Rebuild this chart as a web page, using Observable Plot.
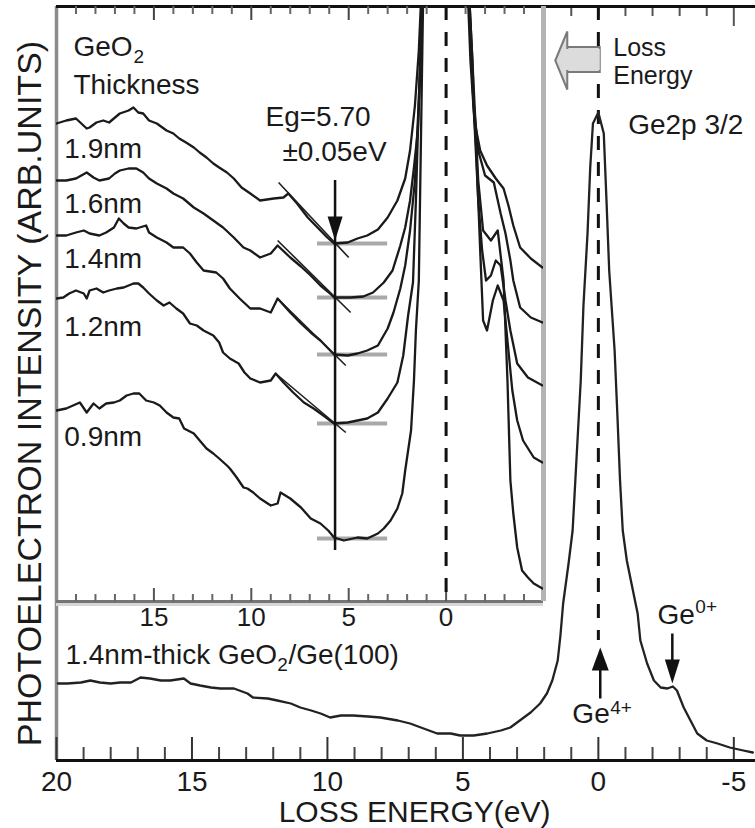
<!DOCTYPE html>
<html><head><meta charset="utf-8">
<script src="https://cdn.jsdelivr.net/npm/d3@7"></script>
<script src="https://cdn.jsdelivr.net/npm/@observablehq/plot@0.6"></script>
<style>
html,body{margin:0;padding:0;background:#fff;overflow:hidden;}
#wrap{position:relative;width:755px;height:828px;}
#wrap svg{position:absolute;left:0;top:0;}
</style></head><body><div id="wrap"></div>
<script>
const FONT = "'Liberation Sans', Arial, Helvetica, sans-serif";
const INK = "#1a1a1a";

// ---- Main spectrum: 1.4nm-thick GeO2/Ge(100), Ge2p3/2 (loss energy eV, intensity arb.)
const mainSpectrum = [
[19.95,77],[19.6,77],[19.1,78],[18.75,80],[18.4,78],[18.0,77],[17.65,78],[17.25,78],[16.9,83],[16.55,82],
[16.15,80],[15.8,80],[15.3,82],[15.05,77],[14.7,75],[14.3,73],[13.95,72],[13.45,72],[12.95,67],[12.75,63],
[12.2,62],[11.85,60],[11.35,57],[11.0,53],[10.6,50],[10.25,47],[9.9,43],[9.5,45],[9.05,45],[8.5,44],
[8.05,43],[7.4,40],[6.95,37],[6.45,32],[5.95,27],[5.45,27],[5.1,25],[4.6,25],[4.1,27],[3.6,30],
[3.25,33],[2.9,40],[2.5,48],[2.15,57],[1.9,67],[1.7,80],[1.5,100],[1.4,125],[1.3,157],[1.1,197],
[0.95,230],[0.85,280],[0.75,330],[0.65,380],[0.55,455],[0.4,527],[0.3,593],[0.2,637],[0,648],[-0.2,627],
[-0.3,560],[-0.4,490],[-0.5,450],[-0.6,410],[-0.7,347],[-0.8,280],[-0.9,230],[-1.05,200],[-1.2,180],[-1.45,147],
[-1.55,120],[-1.8,97],[-2.05,80],[-2.3,73],[-2.55,72],[-2.75,74],[-2.9,70],[-3.15,53],[-3.4,40],[-3.65,27],
[-4.0,20],[-4.4,17],[-4.85,13],[-5.35,10],[-5.7,8]
];

// ---- Inset spectra (band-gap region) for each GeO2 thickness
const gap19 = [
[20.0,478],[19.5,481],[19.0,483],[18.45,473],[18.3,474],[17.95,479],[17.6,481],[17.3,479],[16.75,488],[16.3,491],
[16.05,494],[15.8,489],[15.55,488],[15.25,481],[14.85,478],[14.35,471],[14.0,468],[13.7,463],[13.35,459],[12.95,454],
[12.65,449],[12.3,444],[11.95,438],[11.65,434],[11.25,429],[10.9,423],[10.5,414],[10.05,408],[9.55,401],[8.85,403],
[8.35,404],[8.1,408],[7.65,398],[7.1,384],[6.6,374],[6.1,364],[5.75,358],[5.05,359],[4.55,363],[4.05,366],
[3.5,372],[3.0,384],[2.5,401],[2.1,423],[1.85,451],[1.6,496],[1.4,551],[1.2,640],[-1.05,640],[-1.25,541],
[-1.45,481],[-1.75,451],[-2.1,436],[-2.55,423],[-2.95,413],[-3.2,396],[-3.45,376],[-3.8,354],[-4.35,343],[-4.95,334]
];
const gap16 = [
[20.0,421],[19.5,421],[19.0,423],[18.45,429],[18.1,424],[17.8,421],[17.3,423],[17.0,428],[16.75,431],[16.3,433],
[15.9,433],[15.55,429],[15.25,423],[14.85,418],[14.35,413],[14.0,408],[13.5,403],[12.95,394],[12.45,388],[11.95,381],
[11.45,374],[10.9,364],[10.4,354],[10.05,351],[9.55,344],[9.0,348],[8.65,356],[8.0,344],[7.45,335],[6.95,326],
[6.45,316],[5.95,308],[5.75,304],[4.9,304],[4.25,305],[3.75,309],[3.2,319],[2.75,331],[2.35,356],[2.1,374],
[1.85,401],[1.65,434],[1.45,471],[1.3,541],[1.15,640],[-1.1,640],[-1.3,541],[-1.4,501],[-1.65,451],[-2.0,426],
[-2.45,419],[-2.8,388],[-3.05,368],[-3.3,341],[-3.45,321],[-3.8,294],[-4.35,284],[-4.95,279]
];
const gap14 = [
[20.0,366],[19.5,366],[19.0,369],[18.6,371],[18.3,368],[17.8,366],[17.45,369],[17.05,374],[16.8,383],[16.55,378],
[16.3,374],[15.9,373],[15.4,376],[15.25,369],[14.85,364],[14.35,359],[14.0,354],[13.5,354],[13.15,348],[12.8,339],
[12.45,331],[11.8,329],[11.45,323],[11.1,313],[10.6,303],[10.05,293],[9.55,293],[9.0,289],[8.65,303],[8.0,289],
[7.45,278],[6.95,269],[6.45,261],[5.95,251],[5.75,247],[5.05,246],[4.55,248],[4.05,251],[3.5,256],[3.0,273],
[2.7,289],[2.35,313],[2.1,336],[1.85,371],[1.6,421],[1.4,501],[1.15,640],[-1.1,640],[-1.35,541],[-1.45,481],
[-1.65,401],[-1.85,351],[-2.05,321],[-2.3,326],[-2.55,341],[-2.8,336],[-3.05,301],[-3.3,271],[-3.65,238],[-4.2,224],
[-4.95,216]
];
const gap12 = [
[20.0,303],[19.65,304],[19.35,308],[19.0,311],[18.6,308],[18.45,303],[18.3,311],[17.95,313],[17.6,309],[17.3,311],
[16.9,313],[16.55,314],[16.3,316],[16.05,318],[15.8,318],[15.55,314],[15.25,308],[14.85,301],[14.5,296],[14.2,299],
[13.85,293],[13.5,288],[13.15,278],[12.8,276],[12.45,271],[11.95,266],[11.65,259],[11.45,249],[11.1,243],[10.65,238],
[10.35,229],[10.05,223],[9.55,219],[9.0,221],[8.75,228],[8.35,219],[7.85,209],[7.3,199],[6.8,193],[6.3,186],
[5.75,178],[5.05,179],[4.55,181],[4.05,183],[3.5,189],[3.0,203],[2.5,219],[2.2,246],[1.95,286],[1.7,319],
[1.55,401],[1.4,501],[1.15,640],[-1.1,640],[-1.4,501],[-1.55,451],[-1.75,351],[-1.9,281],[-2.1,271],[-2.4,301],
[-2.65,316],[-2.95,301],[-3.2,251],[-3.4,211],[-3.65,181],[-3.95,161],[-4.5,144],[-4.95,139]
];
const gap09 = [
[20.0,191],[19.5,193],[19.15,196],[18.8,199],[18.45,189],[18.1,198],[17.8,193],[17.45,198],[17.05,199],[16.75,201],
[16.4,206],[16.05,208],[15.75,208],[15.4,201],[15.0,199],[14.7,196],[14.35,189],[14.0,184],[13.7,183],[13.45,173],
[12.95,168],[12.65,161],[12.3,153],[11.95,148],[11.65,143],[11.25,136],[11.1,133],[10.75,124],[10.4,114],[10.2,113],
[9.9,109],[9.55,103],[9.0,96],[8.65,98],[8.5,109],[8.0,103],[7.45,94],[6.95,83],[6.45,78],[6.05,71],
[5.75,64],[5.25,61],[4.55,64],[4.05,63],[3.5,68],[3.2,73],[2.85,81],[2.5,93],[2.25,108],[2.1,131],
[1.95,151],[1.8,171],[1.65,221],[1.55,271],[1.4,321],[1.3,451],[1.15,640],[-1.1,640],[-1.45,501],[-1.65,421],
[-1.9,371],[-2.3,361],[-2.65,371],[-2.95,321],[-3.15,221],[-3.3,121],[-3.45,88],[-3.65,54],[-3.9,31],[-4.2,24],
[-4.5,18],[-4.95,13]
];
const thicknessLabels = ["1.9nm", "1.6nm", "1.4nm", "1.2nm", "0.9nm"];
const thicknessLevels = [444, 389, 334, 266, 156];
const gapMinima = [358, 304, 247, 178, 63];
const bandGap = 5.70;
const tangents = [
  {e1: 8.6, v1: 419, e2: 5.0, v2: 344},
  {e1: 8.65, v1: 361, e2: 4.9, v2: 289},
  {e1: 8.65, v1: 303, e2: 5.15, v2: 236},
  {e1: 8.75, v1: 228, e2: 5.15, v2: 169}
];

// ---- ticks
const mainMajorTicks = [20, 15, 10, 5, 0, -5];
const mainMinorTicks = [19,18,17,16,14,13,12,11,9,8,7,6,4,3,2,1,-1,-2,-3,-4];
const mainTopTicks = [1, 0, -1, -2, -3, -4];
const insetMajorTicks = [15, 10, 5, 0];
const insetMinorTicks = [19,18,17,16,14,13,12,11,9,8,7,6,4,3,2,1,-1,-2,-3,-4];

// ---- annotation anchors (data units)
const mainArrows = [
  {name: "Ge0+", e: -2.73, from: 127, to: 77, dir: "down"},
  {name: "Ge4+", e: -0.07, from: 62, to: 113, dir: "up"}
];
const lossArrow = {tipE: 1.59, tipV: 700, x1: 1.15, x2: -0.07, y1: 688, y2: 713};

// custom arrowhead symbols: tip at the anchor point
const triDown = {draw(c) { c.moveTo(0, 0); c.lineTo(-7.5, -24); c.lineTo(7.5, -24); c.closePath(); }};
const triUp = {draw(c) { c.moveTo(0, 0); c.lineTo(-8.5, 23); c.lineTo(8.5, 23); c.closePath(); }};
const triLeft = {draw(c) { c.moveTo(0, 0); c.lineTo(12, -29); c.lineTo(12, 29); c.closePath(); }};

const mainRows = mainSpectrum.map(([e, v]) => ({e, v}));
const insetSeries = [
  {label: "1.9nm", pts: gap19}, {label: "1.6nm", pts: gap16}, {label: "1.4nm", pts: gap14},
  {label: "1.2nm", pts: gap12}, {label: "0.9nm", pts: gap09}
];
const insetRows = insetSeries.flatMap(s => s.pts.map(([e, v]) => ({label: s.label, e, v})));

const txt = (x, y, t, size, extra = {}) =>
  Plot.text([t], {x: () => x, y: () => y, text: d => d, textAnchor: "start", lineAnchor: "bottom",
    fontSize: size, fill: INK, ...extra});

const main = Plot.plot({
  width: 755, height: 828,
  marginLeft: 56, marginRight: 0, marginTop: 6, marginBottom: 68,
  style: {fontFamily: FONT, fontSize: "28px", background: "none", overflow: "visible", color: INK},
  x: {domain: [20, -5.8], axis: null},
  y: {domain: [0, 754], axis: null},
  marks: [
    Plot.ruleX([20], {stroke: "#8c8c8c", strokeWidth: 3.5}),
    Plot.ruleX(mainMinorTicks, {y1: 0, y2: 13, stroke: "#444", strokeWidth: 2}),
    Plot.ruleX(mainMajorTicks, {y1: 0, y2: 23, stroke: "#333", strokeWidth: 2}),
    Plot.ruleX(mainTopTicks, {y1: 754, y2: 744, stroke: "#555", strokeWidth: 2}),
    Plot.ruleX([-5], {y1: 754, y2: 734, stroke: "#555", strokeWidth: 2}),
    Plot.ruleY([0], {stroke: "#111", strokeWidth: 3}),
    Plot.ruleY([754], {stroke: "#111", strokeWidth: 3}),
    Plot.ruleX([0], {y1: 754, y2: 120, stroke: "#111", strokeWidth: 3, strokeDasharray: "14 12"}),
    Plot.line(mainRows, {x: "e", y: "v", stroke: "#222", strokeWidth: 2.3, strokeLinejoin: "round"}),
    // Ge0+/Ge4+ arrows
    Plot.link(mainArrows, {x1: "e", x2: "e", y1: "from", y2: d => d.dir === "down" ? d.to + 20 : d.to - 20, stroke: "#111", strokeWidth: 2.5}),
    Plot.dot(mainArrows.filter(d => d.dir === "down"), {x: "e", y: "to", symbol: triDown, fill: "#111", stroke: "none"}),
    Plot.dot(mainArrows.filter(d => d.dir === "up"), {x: "e", y: "to", symbol: triUp, fill: "#111", stroke: "none"}),
    // Loss Energy block arrow
    Plot.rect([lossArrow], {x1: "x1", x2: "x2", y1: "y1", y2: "y2", fill: "#dcdcdc", stroke: "#7a7a7a", strokeWidth: 2}),
    Plot.dot([lossArrow], {x: "tipE", y: "tipV", symbol: triLeft, fill: "#dcdcdc", stroke: "#7a7a7a", strokeWidth: 2}),
    Plot.rect([lossArrow], {x1: d => d.x1 + 0.05, x2: "x2", y1: d => d.y1 + 2, y2: d => d.y2 - 2, fill: "#dcdcdc"}),
    // tick labels
    Plot.text(mainMajorTicks, {x: d => d, y: 0, dy: 30, lineAnchor: "bottom", text: d => String(d), fontSize: 28, fill: INK}),
    // texts
    txt(-0.55, 705, "Loss", 25),
    txt(-0.55, 677, "Energy", 25),
    txt(-1.1, 627, "Ge2p 3/2", 28),
    txt(19.67, 97, "1.4nm-thick GeO", 28),
    txt(11.85, 90, "2", 19),
    txt(11.44, 97, "/Ge(100)", 28),
    txt(0.96, 38, "Ge", 28),
    txt(-0.44, 47, "4+", 19),
    txt(-2.18, 137, "Ge", 28),
    txt(-3.58, 148, "0+", 19),
    txt(11.8, 0, "LOSS ENERGY(eV)", 30, {dy: 61}),
    Plot.text(["PHOTOELECTRON INTENSITY (ARB.UNITS)"], {x: () => 20, y: () => 367, dx: -26, rotate: -90,
      text: d => d, textAnchor: "middle", lineAnchor: "middle", fontSize: 34, fill: INK})
  ]
});

const inset = Plot.plot({
  width: 755, height: 630,
  marginLeft: 56, marginRight: 212, marginTop: 6, marginBottom: 29,
  style: {fontFamily: FONT, fontSize: "26px", background: "none", overflow: "visible", color: INK},
  x: {domain: [20, -5], axis: null},
  y: {domain: [0, 595], axis: null},
  marks: [
    Plot.ruleY([0], {dy: 3, stroke: "#d6d6d6", strokeWidth: 3}),
    Plot.ruleY([0], {stroke: "#757575", strokeWidth: 3}),
    Plot.ruleX([-5], {stroke: "#b3b3b3", strokeWidth: 5}),
    Plot.ruleX(insetMinorTicks, {y1: 0, y2: 7, stroke: "#666", strokeWidth: 2}),
    Plot.ruleX(insetMajorTicks, {y1: 0, y2: 13, stroke: "#555", strokeWidth: 2}),
    Plot.ruleX(insetMinorTicks, {y1: 595, y2: 587, stroke: "#666", strokeWidth: 2}),
    Plot.ruleX(insetMajorTicks, {y1: 595, y2: 581, stroke: "#444", strokeWidth: 2}),
    Plot.ruleX([0], {y1: 595, y2: 0, stroke: "#111", strokeWidth: 3, strokeDasharray: "14 12"}),
    Plot.ruleY(gapMinima, {y: d => d, x1: 6.6, x2: 3.0, stroke: "#a9a9a9", strokeWidth: 4}),
    Plot.line(insetRows, {x: "e", y: "v", z: "label", clip: true, stroke: "#1a1a1a", strokeWidth: 2.3, strokeLinejoin: "round"}),
    Plot.link(tangents, {x1: "e1", y1: "v1", x2: "e2", y2: "v2", stroke: "#1e1e1e", strokeWidth: 1.6}),
    Plot.ruleX([bandGap], {y1: 421, y2: 51, stroke: "#111", strokeWidth: 2.5}),
    Plot.dot([bandGap], {x: d => d, y: () => gapMinima[0] + 3, symbol: triDown, fill: "#111", stroke: "none"}),
    Plot.text(insetMajorTicks, {x: d => d, y: 0, dy: 24, lineAnchor: "bottom", text: d => String(d), fontSize: 26, fill: INK}),
    txt(19.13, 546, "GeO", 28),
    txt(16.05, 539, "2", 19),
    txt(19.13, 508, "Thickness", 28),
    Plot.text(thicknessLabels, {x: () => 19.6, y: (d, i) => thicknessLevels[i], text: d => d, textAnchor: "start", lineAnchor: "bottom", fontSize: 28, fill: INK}),
    txt(9.27, 476, "Eg=5.70", 28),
    txt(8.4, 441, "\u00b10.05eV", 28)
  ]
});

const wrap = document.getElementById("wrap");
wrap.appendChild(main);
wrap.appendChild(inset);
</script>
</body></html>
